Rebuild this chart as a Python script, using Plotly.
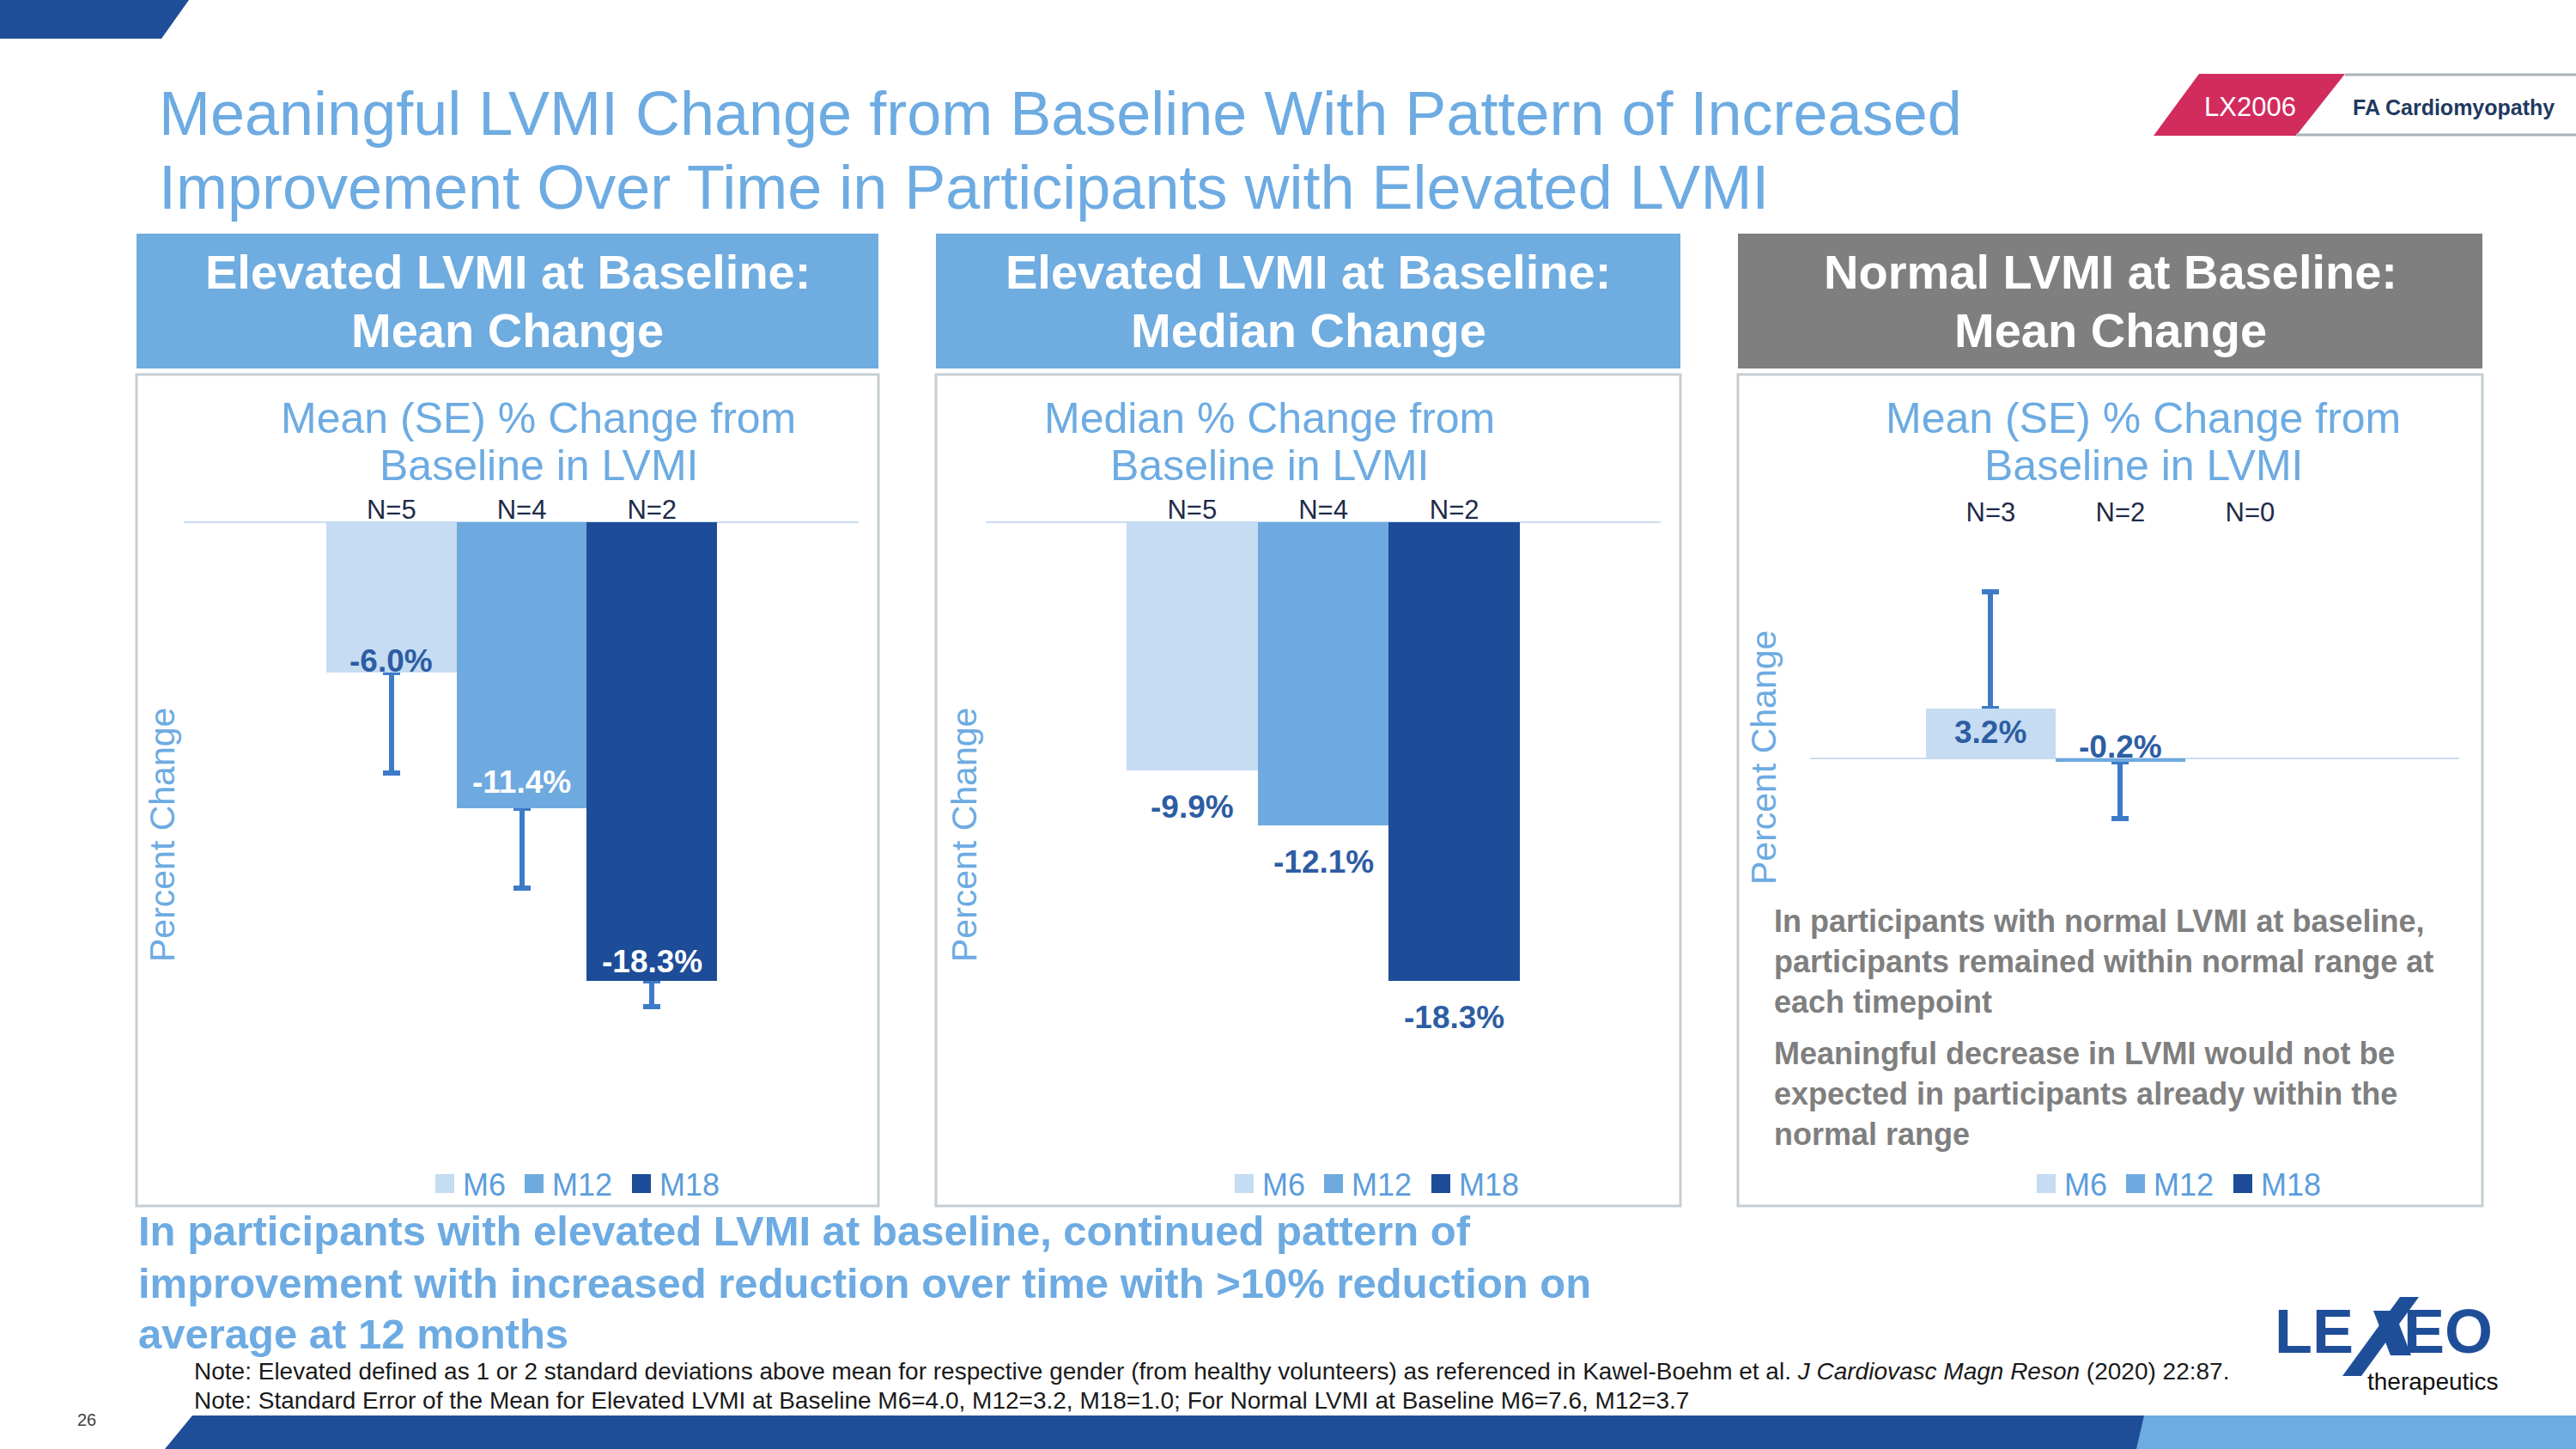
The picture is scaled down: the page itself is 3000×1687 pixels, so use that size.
import plotly.graph_objects as go

W, H = 3000, 1687

# ---------------- data ----------------
timepoints = ["M6", "M12", "M18"]
elevated_mean = [-6.0, -11.4, -18.3]
elevated_mean_se = [4.0, 3.2, 1.0]
elevated_median = [-9.9, -12.1, -18.3]
normal_mean = [3.2, -0.2, None]
normal_mean_se = [7.6, 3.7, None]
elevated_n = ["N=5", "N=4", "N=2"]
normal_n = ["N=3", "N=2", "N=0"]

# ---------------- style ----------------
FONT = "Liberation Sans, Arial, Helvetica, sans-serif"
BAR_COLORS = ["#C5DCF2", "#6EAADF", "#1D4C98"]
LIGHT_BLUE = "#6DABE2"
HEADER_BLUE = "#6FACE0"
HEADER_GREY = "#7F7F7F"
LABEL_BLUE = "#2D5DA3"
ERR_BLUE = "#3D7BC8"
NAVY = "#1E2B48"
ZERO_COL = "#C8DCF0"
BORDER = "#C5CED3"
LEGEND_TXT = "#5B9DDC"
DARK_BLUE = "#1F4E99"


def fx(x):
    return x / W


def fy(y):
    return 1 - y / H


def poly(pts):
    return "M " + " L ".join(f"{fx(a):.5f},{fy(b):.5f}" for a, b in pts) + " Z"


panels = [
    dict(box=(159, 1023), xdom=(214, 1000), xr=(-1.594, 3.587), zero=608, scale=29.2,
         top=605, bottom=1310, values=elevated_mean, se=elevated_mean_se, n=elevated_n,
         header=("Elevated LVMI at Baseline:", "Mean Change"), hcolor=HEADER_BLUE,
         sub=("Mean (SE) % Change from", "Baseline in LVMI"), subx=627, ytitle=(189, 972),
         shifts=[14, 30, 23], lcolors=[LABEL_BLUE, "white", "white"], nstand=-6),
    dict(box=(1090, 1957), xdom=(1148, 1934), xr=(-1.574, 3.574), zero=608, scale=29.2,
         top=605, bottom=1310, values=elevated_median, se=None, n=elevated_n,
         header=("Elevated LVMI at Baseline:", "Median Change"), hcolor=HEADER_BLUE,
         sub=("Median % Change from", "Baseline in LVMI"), subx=1478, ytitle=(1123, 972),
         shifts=[-42, -42, -42], lcolors=[LABEL_BLUE] * 3, nstand=-6),
    dict(box=(2024, 2891), xdom=(2108, 2864), xr=(-1.394, 3.613), zero=883, scale=18.0,
         top=618, bottom=1000, values=normal_mean, se=normal_mean_se, n=normal_n,
         header=("Normal LVMI at Baseline:", "Mean Change"), hcolor=HEADER_GREY,
         sub=("Mean (SE) % Change from", "Baseline in LVMI"), subx=2496, ytitle=(2054, 882),
         shifts=[-27, 17, 0], lcolors=[LABEL_BLUE] * 3, nstand=4),
]

fig = go.Figure()
shapes = []
annots = []
layout_axes = {}

for i, p in enumerate(panels):
    sfx = "" if i == 0 else str(i + 1)
    xa, ya = "x" + sfx, "y" + sfx
    vals = p["values"]

    # error bars on a transparent twin trace drawn underneath the bars
    if p["se"] is not None:
        plus = [s if (v is not None and s is not None and v > 0) else 0 for v, s in zip(vals, p["se"])]
        minus = [s if (v is not None and s is not None and v < 0) else 0 for v, s in zip(vals, p["se"])]
        fig.add_trace(go.Bar(
            x=timepoints, y=vals, xaxis=xa, yaxis=ya,
            marker=dict(color="rgba(0,0,0,0)", line=dict(width=0)),
            error_y=dict(type="data", symmetric=False, array=plus, arrayminus=minus,
                         color=ERR_BLUE, thickness=6, width=10),
            hoverinfo="skip", showlegend=False))
    fig.add_trace(go.Bar(
        x=timepoints, y=vals, xaxis=xa, yaxis=ya,
        marker=dict(color=BAR_COLORS, line=dict(width=0)),
        showlegend=False, hoverinfo="x+y"))

    yr = [-(p["bottom"] - p["zero"]) / p["scale"], (p["zero"] - p["top"]) / p["scale"]]
    layout_axes["xaxis" + sfx] = dict(
        domain=[fx(p["xdom"][0]), fx(p["xdom"][1])], anchor=ya, type="category",
        categoryorder="array", categoryarray=timepoints, range=list(p["xr"]),
        tickmode="array", tickvals=timepoints, ticktext=p["n"], side="top",
        showgrid=False, zeroline=False, showline=False, ticks="",
        tickfont=dict(family=FONT, size=31, color=NAVY), fixedrange=True)
    layout_axes["yaxis" + sfx] = dict(
        domain=[fy(p["bottom"]), fy(p["top"])], anchor=xa, range=yr,
        showgrid=False, showticklabels=False, showline=False, ticks="",
        zeroline=True, zerolinecolor=ZERO_COL, zerolinewidth=2, fixedrange=True)

    # value labels
    for t, v, sh, c in zip(timepoints, vals, p["shifts"], p["lcolors"]):
        if v is None:
            continue
        annots.append(dict(x=t, y=v, xref=xa, yref=ya, yshift=sh, showarrow=False,
                           xanchor="center", yanchor="middle",
                           text=f"<b>{v:.1f}%</b>", font=dict(family=FONT, size=37, color=c)))

    bl, br = p["box"]
    # header
    shapes.append(dict(type="rect", xref="paper", yref="paper", x0=fx(bl), x1=fx(br),
                       y0=fy(429), y1=fy(272), fillcolor=p["hcolor"], line=dict(width=0), layer="below"))
    for txt, yy in zip(p["header"], (316, 385)):
        annots.append(dict(x=fx((bl + br) / 2), y=fy(yy), xref="paper", yref="paper", showarrow=False,
                           xanchor="center", yanchor="middle", text=f"<b>{txt}</b>",
                           font=dict(family=FONT, size=56, color="white")))
    # panel border
    shapes.append(dict(type="rect", xref="paper", yref="paper", x0=fx(bl), x1=fx(br),
                       y0=fy(1404), y1=fy(436), fillcolor="rgba(0,0,0,0)",
                       line=dict(width=3, color=BORDER), layer="below"))
    # subtitle
    for txt, yy in zip(p["sub"], (487, 542)):
        annots.append(dict(x=fx(p["subx"]), y=fy(yy), xref="paper", yref="paper", showarrow=False,
                           xanchor="center", yanchor="middle", text=txt,
                           font=dict(family=FONT, size=50, color=LIGHT_BLUE)))
    # axis title
    annots.append(dict(x=fx(p["ytitle"][0]), y=fy(p["ytitle"][1]), xref="paper", yref="paper",
                       showarrow=False, textangle=-90, xanchor="center", yanchor="middle",
                       text="Percent Change", font=dict(family=FONT, size=41, color=LIGHT_BLUE)))
    # legend
    for k, (name, col) in enumerate(zip(timepoints, BAR_COLORS)):
        sq = bl + [348, 452, 577][k]
        tx = bl + [378, 482, 607][k]
        shapes.append(dict(type="rect", xref="paper", yref="paper", x0=fx(sq), x1=fx(sq + 22),
                           y0=fy(1389), y1=fy(1367), fillcolor=col, line=dict(width=0)))
        annots.append(dict(x=fx(tx), y=fy(1379), xref="paper", yref="paper", showarrow=False,
                           xanchor="left", yanchor="middle", text=name,
                           font=dict(family=FONT, size=36, color=LEGEND_TXT)))

# ---------------- slide decoration ----------------
shapes.append(dict(type="path", xref="paper", yref="paper",
                   path=poly([(0, 0), (220, 0), (188, 45), (0, 45)]),
                   fillcolor=DARK_BLUE, line=dict(width=0)))
# badge
shapes.append(dict(type="path", xref="paper", yref="paper",
                   path=poly([(2561, 86), (2731, 86), (2674, 158), (2508, 158)]),
                   fillcolor="#D22B5E", line=dict(width=0)))
for (xa0, yy) in ((2731, 87), (2674, 157)):
    shapes.append(dict(type="line", xref="paper", yref="paper", x0=fx(xa0), x1=1.0,
                       y0=fy(yy), y1=fy(yy), line=dict(color="#A9B4B9", width=3)))
annots.append(dict(x=fx(2620), y=fy(125), xref="paper", yref="paper", showarrow=False,
                   xanchor="center", yanchor="middle", text="LX2006",
                   font=dict(family=FONT, size=31, color="white")))
annots.append(dict(x=fx(2738), y=fy(125), xref="paper", yref="paper", showarrow=False,
                   xanchor="left", yanchor="middle", text="<b>FA Cardiomyopathy</b>",
                   font=dict(family=FONT, size=25, color="#1F3A5F")))
# bottom bar
shapes.append(dict(type="path", xref="paper", yref="paper",
                   path=poly([(2495, 1648), (3000, 1648), (3000, 1687), (2486, 1687)]),
                   fillcolor="#6DABE0", line=dict(width=0)))
shapes.append(dict(type="path", xref="paper", yref="paper",
                   path=poly([(224, 1648), (2497, 1648), (2488, 1687), (192, 1687)]),
                   fillcolor=DARK_BLUE, line=dict(width=0)))
# logo strokes
shapes.append(dict(type="path", xref="paper", yref="paper",
                   path=poly([(2795, 1510), (2817, 1510), (2750, 1602), (2728, 1602)]),
                   fillcolor=DARK_BLUE, line=dict(width=0)))
shapes.append(dict(type="path", xref="paper", yref="paper",
                   path=poly([(2764, 1526), (2788, 1526), (2808, 1578), (2784, 1578)]),
                   fillcolor=DARK_BLUE, line=dict(width=0)))
annots.append(dict(x=fx(2743), y=fy(1550), xref="paper", yref="paper", showarrow=False,
                   xanchor="right", yanchor="middle", height=52, valign="middle", text="<b>LE</b>",
                   font=dict(family=FONT, size=72, color=DARK_BLUE)))
annots.append(dict(x=fx(2797), y=fy(1550), xref="paper", yref="paper", showarrow=False,
                   xanchor="left", yanchor="middle", height=52, valign="middle", text="<b>EO</b>",
                   font=dict(family=FONT, size=72, color=DARK_BLUE)))
annots.append(dict(x=fx(2755), y=fy(1608), xref="paper", yref="paper", showarrow=False,
                   xanchor="left", yanchor="middle", height=32, valign="middle", text="therapeutics",
                   font=dict(family=FONT, size=28, color="#111111")))

# title
for txt, yy in (("Meaningful LVMI Change from Baseline With Pattern of Increased", 132),
                ("Improvement Over Time in Participants with Elevated LVMI", 218)):
    annots.append(dict(x=fx(183), y=fy(yy), xref="paper", yref="paper", showarrow=False,
                       xanchor="left", yanchor="middle", text=txt,
                       font=dict(family=FONT, size=72, color=LIGHT_BLUE)))

# panel 3 commentary
for txt, yy in (("In participants with normal LVMI at baseline,<br>participants remained within normal range at<br>each timepoint", 1119),
                ("Meaningful decrease in LVMI would not be<br>expected in participants already within the<br>normal range", 1273)):
    annots.append(dict(x=fx(2064), y=fy(yy), xref="paper", yref="paper", showarrow=False,
                       xanchor="left", yanchor="middle", align="left", text=f"<b>{txt}</b>",
                       font=dict(family=FONT, size=36, color="#7F7F7F")))

# bottom conclusion
for txt, yy in (("In participants with elevated LVMI at baseline, continued pattern of", 1433),
                ("improvement with increased reduction over time with &gt;10% reduction on", 1494),
                ("average at 12 months", 1553)):
    annots.append(dict(x=fx(159), y=fy(yy), xref="paper", yref="paper", showarrow=False,
                       xanchor="left", yanchor="middle", text=f"<b>{txt}</b>",
                       font=dict(family=FONT, size=49, color=LIGHT_BLUE)))

# notes
notes = [
    ("Note: Elevated defined as 1 or 2 standard deviations above mean for respective gender (from healthy volunteers) "
     "as referenced in Kawel\u2011Boehm et al. <i>J Cardiovasc Magn Reson</i> (2020) 22:87.", 1596),
    ("Note: Standard Error of the Mean for Elevated LVMI at Baseline M6=4.0, M12=3.2, M18=1.0; "
     "For Normal LVMI at Baseline M6=7.6, M12=3.7", 1630),
]
for txt, yy in notes:
    annots.append(dict(x=fx(224), y=fy(yy), xref="paper", yref="paper", showarrow=False,
                       xanchor="left", yanchor="middle", text=txt,
                       font=dict(family=FONT, size=28, color="#1A1A1A")))
annots.append(dict(x=fx(101), y=fy(1653), xref="paper", yref="paper", showarrow=False,
                   xanchor="center", yanchor="middle", text="26",
                   font=dict(family=FONT, size=20, color="#404040")))

fig.update_layout(
    width=W, height=H, autosize=False,
    margin=dict(l=0, r=0, t=0, b=0, pad=0),
    paper_bgcolor="white", plot_bgcolor="rgba(0,0,0,0)",
    showlegend=False, barmode="overlay", bargap=0,
    font=dict(family=FONT),
    shapes=shapes, annotations=annots,
    **layout_axes,
)

# nudge the N= tick labels toward their reference positions (if supported)
for i, p in enumerate(panels):
    name = "xaxis" + ("" if i == 0 else str(i + 1))
    try:
        fig.layout[name].ticklabelstandoff = p["nstand"]
    except Exception:
        pass

fig.write_html("out.html", include_plotlyjs=True, config={"displayModeBar": False})
